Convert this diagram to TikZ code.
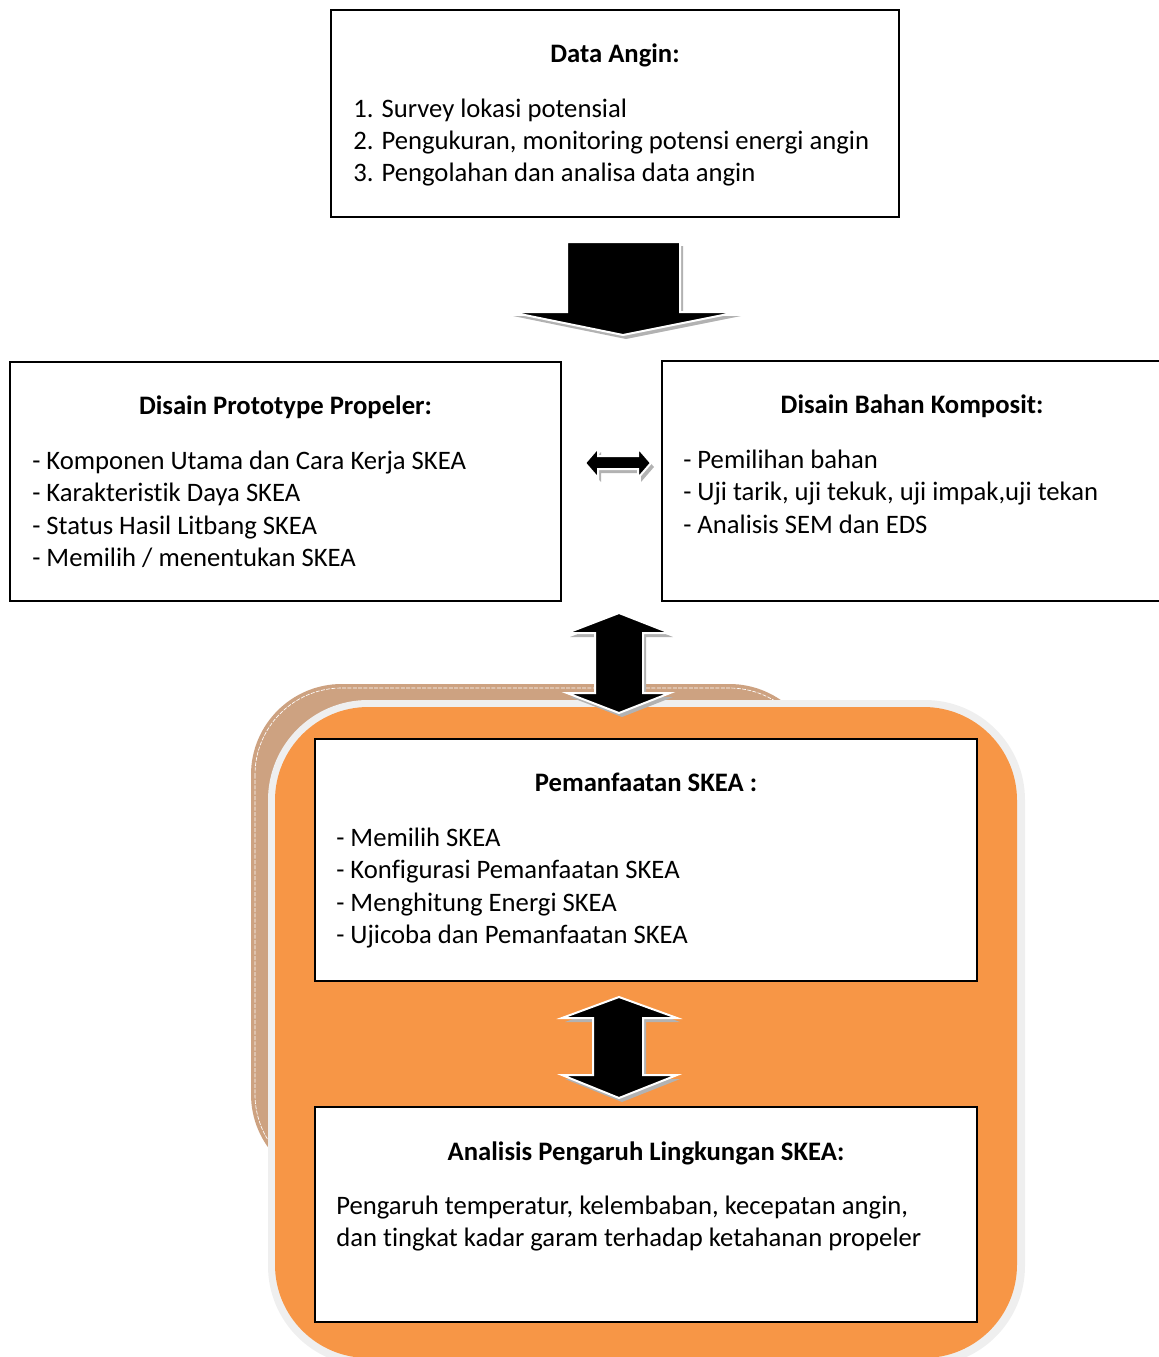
\documentclass[tikz,border=0pt]{standalone}
\usepackage{fontspec}
\setmainfont{Carlito}[Ligatures=NoCommon]
\definecolor{orng}{HTML}{F79646}
\definecolor{tanc}{HTML}{CDA281}
\definecolor{lgray}{HTML}{EFEFEF}
\begin{document}
\begin{tikzpicture}[x=0.75pt,y=-0.75pt,
 box/.style={draw=black, line width=1.4pt, fill=white, inner sep=0pt},
 ttl/.style={font=\fontsize{20pt}{24pt}\selectfont\bfseries, anchor=base, inner sep=0pt},
 itm/.style={font=\fontsize{20pt}{24pt}\selectfont, anchor=base west, inner sep=0pt},
 arrowfill/.style={fill=black, draw=white, line width=1.5pt, line join=miter},
 arrowshadow/.style={fill=black!30}]
\useasboundingbox (0,0) rectangle (1159,1357);
\clip (0,0) rectangle (1159,1357);

% background 3D panel
\fill[tanc, rounded corners=68pt] (251,684) rectangle (820,1185);
\draw[white, line width=0.5pt, dash pattern=on 3pt off 1pt, rounded corners=65pt] (255,688) rectangle (816,1181);
\fill[lgray, rounded corners=75pt] (268,700) rectangle (1025,1366);
\fill[orng, rounded corners=70pt] (275,707) rectangle (1017,1358);

% boxes
\node[box, minimum width=426pt, minimum height=155.25pt] (angin) at (615,113.5) {};
\node[box, minimum width=413.25pt, minimum height=179.25pt] (proto) at (285.5,481.5) {};
\node[box, minimum width=375pt, minimum height=180pt] (komp) at (912,481) {};
\node[box, minimum width=496.5pt, minimum height=181.5pt] (manf) at (646,860) {};
\node[box, minimum width=496.5pt, minimum height=161.25pt] (ling) at (646,1214.5) {};

% texts box 1
\node[ttl] (t1) at (615,62) {Data Angin:};
\node[itm] (t1a) at (353,117) {1. Survey lokasi potensial};
\node[itm] (t1b) at (353,149) {2. Pengukuran, monitoring potensi energi angin};
\node[itm] (t1c) at (353,181) {3. Pengolahan dan analisa data angin};

% texts box 2
\node[ttl] (t2) at (285.5,414) {Disain Prototype Propeler:};
\node[itm] (t2a) at (32,469) {- Komponen Utama dan Cara Kerja SKEA};
\node[itm] (t2b) at (32,501) {- Karakteristik Daya SKEA};
\node[itm] (t2c) at (32,534) {- Status Hasil Litbang SKEA};
\node[itm] (t2d) at (32,566) {- Memilih / menentukan SKEA};

% texts box 3
\node[ttl] (t3) at (912,413) {Disain Bahan Komposit:};
\node[itm] (t3a) at (683,468) {- Pemilihan bahan};
\node[itm] (t3b) at (683,500) {- Uji tarik, uji tekuk, uji impak,uji tekan};
\node[itm] (t3c) at (683,533) {- Analisis SEM dan EDS};

% texts box 4
\node[ttl] (t4) at (646,791) {Pemanfaatan SKEA :};
\node[itm] (t4a) at (336,846) {- Memilih SKEA};
\node[itm] (t4b) at (336,878) {- Konfigurasi Pemanfaatan SKEA};
\node[itm] (t4c) at (336,911) {- Menghitung Energi SKEA};
\node[itm] (t4d) at (336,943) {- Ujicoba dan Pemanfaatan SKEA};

% texts box 5
\node[ttl] (t5) at (646,1160) {Analisis Pengaruh Lingkungan SKEA:};
\node[itm] (t5a) at (336,1214) {Pengaruh temperatur, kelembaban, kecepatan angin,};
\node[itm] (t5b) at (336,1246) {dan tingkat kadar garam terhadap ketahanan propeler};

% block arrows
\def\downarrow{(567,242)--(680,242)--(680,312)--(738,312)--(623,335)--(510,312)--(567,312)--cycle}
\def\harrow{(585,463)--(598,448)--(598,456)--(638,456)--(638,448)--(651,463)--(638,478)--(638,469)--(598,469)--(598,478)--cycle}
\def\varrowa{(619,613)--(670,633)--(643,633)--(643,693)--(670,693)--(619,713)--(567,693)--(595,693)--(595,633)--(567,633)--cycle}
\def\varrowb{(619,997)--(677,1018)--(643,1018)--(643,1075)--(677,1075)--(619,1098)--(562,1075)--(593,1075)--(593,1018)--(562,1018)--cycle}

\fill[arrowshadow, shift={(3,4)}] \downarrow;
\path[arrowfill] \downarrow;
\fill[arrowshadow, shift={(3,4)}] \harrow;
\path[arrowfill] \harrow;
\fill[arrowshadow, shift={(3,4)}] \varrowa;
\path[arrowfill] \varrowa;
\fill[arrowshadow, shift={(3,4)}] \varrowb;
\path[arrowfill] \varrowb;
\end{tikzpicture}
\end{document}
